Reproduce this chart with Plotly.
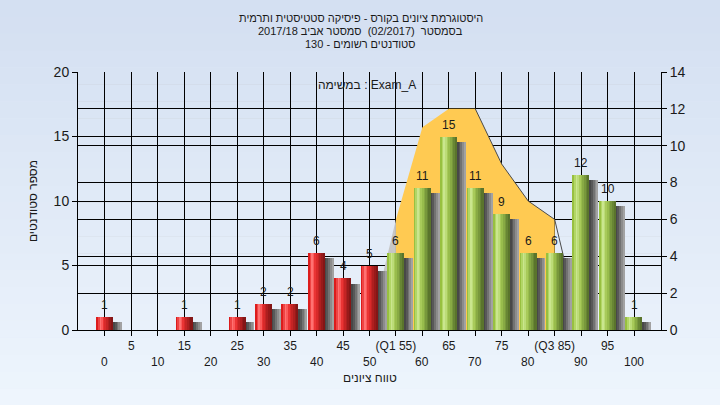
import plotly.graph_objects as go

# ---------------- data ----------------
categories = [0, 5, 10, 15, 20, 25, 30, 35, 40, 45, 50, 55, 60, 65, 70, 75, 80, 85, 90, 95, 100]
counts = [1, 0, 0, 1, 0, 1, 2, 2, 6, 4, 5, 6, 11, 15, 11, 9, 6, 6, 12, 10, 1]
pass_threshold = 55
tick_labels_top = {5: "5", 15: "15", 25: "25", 35: "35", 45: "45", 55: "(Q1 55)",
                   65: "65", 75: "75", 85: "(Q3 85)", 95: "95"}
tick_labels_bottom = [0, 10, 20, 30, 40, 50, 60, 70, 80, 90, 100]
area_x = [50, 55, 60, 65, 70, 75, 80, 85, 90]
area_y = [0, 6, 11, 12, 12, 9, 7, 6, 0]

title_lines = ["היסטוגרמת ציונים בקורס - פיסיקה סטטיסטית ותרמית",
               "בסמסטר  (02/2017)  סמסטר אביב 2017/18",
               "סטודנטים רשומים - 130"]
task_label = "במשימה : Exam_A"
x_title = "טווח ציונים"
y_title = "מספר סטודנטים"

# ---------------- styling ----------------
FONT = "Liberation Sans, Arial, sans-serif"
TXT = "#1a1a1a"
red_stripes = ["#dc1c1c", "#ee4444", "#ff7272", "#fa5a5a", "#ea3434",
               "#d82a2a", "#c42424", "#ae1f1f", "#981a1a", "#841616"]
green_stripes = ["#98c040", "#b2d666", "#cae68e", "#bcdc78", "#a8ca5a",
                 "#98bc4c", "#88aa44", "#78983c", "#688634", "#5a742c"]
shadow_greys = ["#a2a2a2", "#8c8c8c", "#727272", "#585858", "#484848"]
shadow_offsets = [1.7, 1.35, 1.0, 0.65, 0.3]
bar_w = 3.1

fig = go.Figure()

# area (on right axis "y")
fig.add_trace(go.Scatter(x=area_x[0:2], y=area_y[0:2], mode="lines", fill="tozeroy",
                         fillcolor="#c6c6c6", line=dict(width=0), hoverinfo="skip",
                         showlegend=False, xaxis="x", yaxis="y"))
fig.add_trace(go.Scatter(x=area_x[1:8], y=area_y[1:8], mode="lines", fill="tozeroy",
                         fillcolor="#ffca52", line=dict(width=0), hoverinfo="skip",
                         showlegend=False, xaxis="x", yaxis="y"))
fig.add_trace(go.Scatter(x=area_x[4:], y=area_y[4:], mode="lines",
                         line=dict(width=1, color="#4a4a4a"), hoverinfo="skip",
                         showlegend=False, xaxis="x", yaxis="y"))

# shadows (bars axis "y2"): widest/lightest first, then narrower/darker on top
for off, col in zip(shadow_offsets, shadow_greys):
    fig.add_trace(go.Bar(x=categories, y=[max(v - 0.4, 0) for v in counts],
                         width=bar_w, offset=-bar_w / 2 + off,
                         marker=dict(color=col, line=dict(width=0)),
                         hoverinfo="skip", showlegend=False, xaxis="x", yaxis="y2"))

# cylinder-like bars made of stripes
n = len(red_stripes)
sw = bar_w / n
for i in range(n):
    cols = [red_stripes[i] if c < pass_threshold else green_stripes[i] for c in categories]
    fig.add_trace(go.Bar(x=categories, y=counts, width=sw * 1.08, offset=-bar_w / 2 + i * sw,
                         marker=dict(color=cols, line=dict(width=0)),
                         hoverinfo="skip", showlegend=False, xaxis="x", yaxis="y2"))

axis_common = dict(showline=True, linecolor="black", linewidth=1, ticks="outside",
                   ticklen=5, tickcolor="black", showgrid=True, gridcolor="black",
                   gridwidth=1, zeroline=False)

fig.update_layout(
    width=720, height=405,
    margin=dict(l=78, r=59, t=72, b=75),
    paper_bgcolor="#e2ecf8",
    plot_bgcolor="#b4b4b4",
    barmode="overlay",
    bargap=0,
    font=dict(family=FONT, color=TXT),
    xaxis=dict(range=[-5.1, 105.1], tickvals=categories,
               ticktext=[tick_labels_top.get(c, "") for c in categories],
               tickfont=dict(size=12, family=FONT, color=TXT),
               anchor="y", **axis_common),
    yaxis=dict(range=[0, 14], dtick=2, side="right",
               tickfont=dict(size=14, family=FONT, color=TXT), **axis_common),
    yaxis2=dict(range=[0, 20], dtick=5, side="left", overlaying="y",
                tickfont=dict(size=14, family=FONT, color=TXT), **axis_common),
)

# background gradient bands
nb = 24
top_c = (212, 224, 242)
bot_c = (238, 245, 253)
for k in range(nb):
    t = k / (nb - 1)
    c = tuple(int(top_c[j] + (bot_c[j] - top_c[j]) * t) for j in range(3))
    fig.add_shape(type="rect", xref="paper", yref="paper",
                  x0=-0.2, x1=1.2, y0=1 + 72 / 258 - (k + 1) * (405 / 258) / nb - 0.001,
                  y1=1 + 72 / 258 - k * (405 / 258) / nb,
                  fillcolor=f"rgb{c}", line=dict(width=0), layer="below")

# value labels above bars
for c, v in zip(categories, counts):
    if v:
        fig.add_annotation(text=str(v), xref="x", yref="y2", x=c, y=v,
                           yanchor="middle", yshift=12, showarrow=False,
                           font=dict(size=12, family=FONT, color=TXT))

# titles
for line, shift in zip(title_lines, [54, 41, 28]):
    fig.add_annotation(text=line, xref="paper", yref="paper", x=0.485, y=1,
                       yanchor="middle", yshift=shift, showarrow=False,
                       font=dict(size=11, family=FONT, color=TXT))
fig.add_annotation(text=task_label, xref="paper", yref="paper", x=0.496, y=1,
                   yanchor="middle", yshift=-13, showarrow=False,
                   font=dict(size=12, family=FONT, color=TXT))
# second row of x tick labels
for v in tick_labels_bottom:
    fig.add_annotation(text=str(v), xref="x", yref="paper", x=v, y=0,
                       yanchor="middle", yshift=-32, showarrow=False,
                       font=dict(size=12, family=FONT, color=TXT))
fig.add_annotation(text=x_title, xref="paper", yref="paper", x=0.5, y=0,
                   yanchor="middle", yshift=-48, showarrow=False,
                   font=dict(size=12, family=FONT, color=TXT))
fig.add_annotation(text=y_title, xref="paper", yref="paper", x=-0.077, y=0.5,
                   xanchor="center", yanchor="middle", textangle=-90, showarrow=False,
                   font=dict(size=12, family=FONT, color=TXT))

fig.write_html("out.html", config={"displayModeBar": False},
               post_script="document.body.style.margin='0';document.body.style.padding='0';")
